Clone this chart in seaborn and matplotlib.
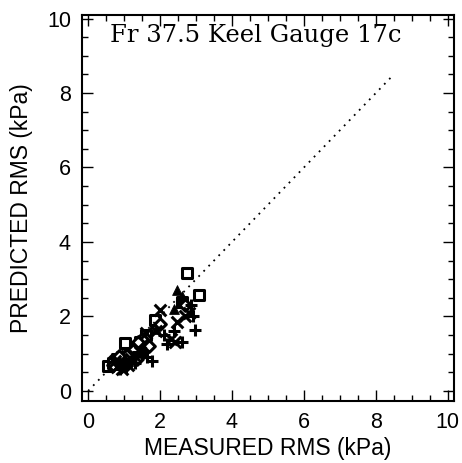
import pandas as pd
import numpy as np
import seaborn as sns
import matplotlib.pyplot as plt
from matplotlib.ticker import MultipleLocator

# Measured vs predicted RMS pressure (kPa), one list pair per run/marker
sq_x = [0.56, 1.03, 0.80, 1.86, 1.60, 2.75, 3.08, 2.60, 1.30, 0.95, 1.45, 0.70, 1.15]
sq_y = [0.67, 1.29, 0.85, 1.91, 1.50, 3.17, 2.58, 2.40, 1.15, 0.90, 1.30, 0.75, 0.95]
tri_x = [2.47, 2.60, 0.75, 1.00, 1.35, 1.90, 2.40, 0.85, 1.20, 2.55, 0.95, 1.10, 1.55]
tri_y = [2.70, 2.55, 0.70, 0.90, 1.20, 1.65, 2.20, 0.75, 1.05, 2.35, 1.00, 0.80, 1.15]
dia_x = [1.50, 0.90, 1.10, 1.40, 2.00, 2.70, 0.70, 1.25, 0.85, 1.05, 1.35, 1.70]
dia_y = [1.40, 0.80, 1.00, 1.30, 1.80, 2.30, 0.70, 1.10, 0.95, 0.70, 0.85, 1.20]
x_x = [2.00, 2.47, 2.42, 1.60, 0.80, 1.00, 1.30, 2.70, 1.20, 1.90, 2.80, 2.30, 0.95, 1.45, 1.10, 0.75]
x_y = [2.18, 1.85, 1.32, 1.55, 0.65, 0.75, 0.95, 2.00, 0.85, 1.60, 2.10, 1.40, 0.60, 1.05, 0.70, 0.80]
p_x = [2.92, 1.78, 2.97, 2.60, 1.20, 0.90, 1.50, 2.10, 2.85, 1.40, 2.40, 1.65, 1.05, 1.30, 2.20]
p_y = [2.00, 0.81, 1.64, 1.30, 0.80, 0.60, 1.00, 1.50, 2.30, 1.05, 1.60, 0.90, 0.65, 0.75, 1.25]

groups = {
    's': (sq_x, sq_y),
    '^': (tri_x, tri_y),
    'D': (dia_x, dia_y),
    'x': (x_x, x_y),
    '+': (p_x, p_y),
}

sns.set_style("ticks")
plt.rcParams['font.family'] = ['Liberation Sans', 'DejaVu Sans']

fig = plt.figure(figsize=(4.62, 4.63), dpi=100)
ax = fig.add_axes([0.1775, 0.134, 0.805, 0.834])

for m, (xs, ys) in groups.items():
    df = pd.DataFrame({'measured': xs, 'predicted': ys})
    if m == 's':
        sns.scatterplot(data=df, x='measured', y='predicted', marker=m, s=50,
                        facecolor='white', edgecolor='black', linewidth=2.2, ax=ax)
    elif m == 'D':
        sns.scatterplot(data=df, x='measured', y='predicted', marker=m, s=35,
                        facecolor='white', edgecolor='black', linewidth=2.2, ax=ax)
    elif m == '^':
        sns.scatterplot(data=df, x='measured', y='predicted', marker=m, s=50,
                        color='black', edgecolor='black', ax=ax)
    else:
        sns.scatterplot(data=df, x='measured', y='predicted', marker=m, s=70,
                        color='black', linewidth=2.2, ax=ax)

# 1:1 reference line
ax.plot([0, 8.5], [0, 8.5], linestyle=(0, (1, 3)), color='black', linewidth=1.3)

ax.set_xlim(-0.17, 10.17)
ax.set_ylim(-0.27, 10.1)
ax.xaxis.set_major_locator(MultipleLocator(2))
ax.yaxis.set_major_locator(MultipleLocator(2))
ax.xaxis.set_minor_locator(MultipleLocator(0.5))
ax.yaxis.set_minor_locator(MultipleLocator(0.5))
ax.tick_params(which='both', direction='in', top=True, right=True, width=1, colors='black')
ax.tick_params(which='major', length=8, labelsize=15.5, pad=8)
ax.tick_params(which='minor', length=4)
for sp in ax.spines.values():
    sp.set_linewidth(1.5)
    sp.set_color('black')

ax.set_xlabel('MEASURED RMS (kPa)', fontsize=16.5, color='black', labelpad=3)
ax.set_ylabel('PREDICTED RMS (kPa)', fontsize=16.5, color='black', labelpad=10)
ax.text(0.6, 9.38, 'Fr 37.5 Keel Gauge 17c', family='DejaVu Serif', fontsize=17.5,
        ha='left', va='baseline', color='black')

fig.savefig('out.png', dpi=100)
